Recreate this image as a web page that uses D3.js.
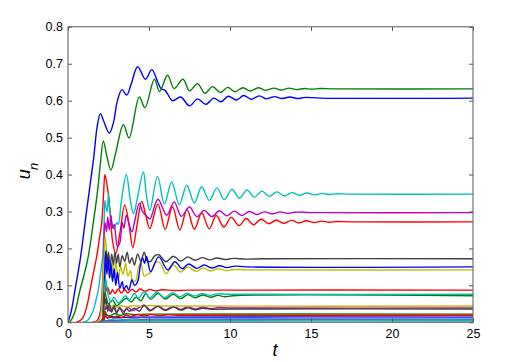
<!DOCTYPE html>
<html>
<head>
<meta charset="utf-8">
<script src="https://cdn.jsdelivr.net/npm/d3@7"></script>
<style>
  html, body { margin: 0; padding: 0; background: #fff; }
  svg { display: block; }
</style>
</head>
<body>
<svg id="chart" width="528" height="362"></svg>
<script>
// ---------- data ----------
const tTicks = [0, 5, 10, 15, 20, 25];
const uTicks = [0, 0.1, 0.2, 0.3, 0.4, 0.5, 0.6, 0.7, 0.8];
const uTickLabels = ["0", "0.1", "0.2", "0.3", "0.4", "0.5", "0.6", "0.7", "0.8"];

const blue1 = [[0,0],[0.2,0.03],[0.43,0.087],[0.78,0.178],[1.05,0.269],[1.32,0.358],[1.6,0.45],[1.8,0.53],[2.0,0.565],[2.2,0.545],[2.55,0.512],[2.8,0.54],[3.05,0.6],[3.33,0.630],[3.62,0.615],[3.9,0.645],[4.3,0.692],[4.78,0.658],[5.17,0.684],[5.5,0.655],[5.75,0.632],[6.0,0.628],[6.45,0.600],[6.95,0.610],[7.5,0.586],[8.0,0.605],[8.5,0.590],[9.0,0.607],[9.45,0.597],[9.9,0.612],[10.4,0.602],[10.85,0.614],[11.3,0.604],[11.8,0.613],[12.25,0.605],[12.75,0.611],[13.2,0.606],[13.7,0.610],[14.15,0.606],[14.65,0.609],[15.6,0.607],[25,0.607]];
const green2 = [[0,0],[0.12,0.002],[0.4,0.025],[0.74,0.087],[1.0,0.13],[1.25,0.178],[1.56,0.269],[1.83,0.358],[2.0,0.43],[2.18,0.491],[2.4,0.45],[2.65,0.412],[2.95,0.46],[3.42,0.535],[3.77,0.499],[4.4,0.61],[4.75,0.581],[5.33,0.658],[5.65,0.625],[6.15,0.669],[6.55,0.633],[7.1,0.658],[7.5,0.627],[8.0,0.646],[8.45,0.620],[8.92,0.638],[9.4,0.622],[9.86,0.636],[10.3,0.624],[10.8,0.635],[11.25,0.626],[11.75,0.635],[12.2,0.628],[12.7,0.634],[13.15,0.629],[13.65,0.634],[14.1,0.630],[14.6,0.633],[15.05,0.631],[15.55,0.633],[16.5,0.632],[25,0.632]];
const red3 = [[0.5,0],[0.8,0.006],[1.0,0.02],[1.2,0.05],[1.36,0.087],[1.55,0.13],[1.77,0.178],[1.95,0.23],[2.08,0.269],[2.2,0.35],[2.28,0.40],[2.45,0.36],[2.6,0.30],[2.75,0.22],[2.95,0.186],[3.2,0.24],[3.5,0.318],[3.75,0.27],[4.0,0.202],[4.25,0.26],[4.55,0.327],[4.8,0.29],[5.05,0.254],[5.55,0.32],[6.0,0.252],[6.45,0.313],[6.9,0.25],[7.35,0.305],[7.8,0.252],[8.25,0.296],[8.72,0.253],[9.15,0.289],[9.62,0.258],[10.07,0.284],[10.55,0.262],[11.0,0.281],[11.45,0.264],[11.92,0.279],[12.4,0.267],[12.85,0.277],[13.3,0.268],[13.8,0.276],[14.25,0.269],[14.7,0.275],[15.2,0.270],[15.65,0.274],[16.1,0.271],[16.6,0.273],[17.5,0.272],[25,0.272]];
const cyan4 = [[0.9,0],[1.2,0.005],[1.5,0.025],[1.7,0.055],[1.87,0.087],[2.0,0.13],[2.14,0.178],[2.22,0.26],[2.28,0.33],[2.35,0.31],[2.42,0.30],[2.5,0.348],[2.58,0.30],[2.7,0.27],[2.85,0.252],[3.0,0.27],[3.1,0.265],[3.3,0.33],[3.6,0.40],[3.85,0.33],[4.05,0.294],[4.3,0.34],[4.65,0.407],[4.85,0.34],[5.05,0.303],[5.53,0.395],[5.95,0.32],[6.4,0.38],[6.87,0.318],[7.33,0.371],[7.8,0.323],[8.25,0.367],[8.72,0.33],[9.2,0.364],[9.65,0.332],[10.12,0.36],[10.58,0.336],[11.05,0.358],[11.5,0.339],[11.97,0.355],[12.43,0.341],[12.9,0.353],[13.35,0.342],[13.82,0.351],[14.28,0.344],[14.75,0.350],[15.2,0.345],[15.68,0.349],[16.15,0.346],[16.6,0.348],[17.5,0.347],[25,0.347]];
const magenta5 = [[1.5,0],[1.8,0.005],[2.0,0.03],[2.1,0.08],[2.2,0.18],[2.28,0.27],[2.38,0.245],[2.45,0.285],[2.55,0.25],[2.65,0.29],[2.75,0.255],[2.85,0.265],[3.05,0.205],[3.2,0.215],[3.35,0.27],[3.45,0.255],[3.6,0.29],[3.8,0.26],[3.95,0.245],[4.1,0.27],[4.4,0.322],[4.6,0.30],[4.8,0.29],[5.05,0.28],[5.55,0.333],[6.1,0.29],[6.55,0.326],[7.0,0.287],[7.5,0.312],[7.95,0.286],[8.42,0.303],[8.87,0.286],[9.35,0.302],[9.8,0.288],[10.27,0.301],[10.72,0.289],[11.2,0.300],[11.65,0.292],[12.15,0.299],[12.6,0.293],[13.1,0.299],[13.55,0.295],[14.0,0.298],[15,0.297],[25,0.297]];
const yellow6 = [[1.6,0],[1.9,0.005],[2.05,0.03],[2.15,0.1],[2.25,0.2],[2.3,0.232],[2.38,0.19],[2.45,0.14],[2.55,0.17],[2.65,0.12],[2.75,0.155],[2.85,0.12],[2.95,0.165],[3.1,0.115],[3.25,0.15],[3.4,0.13],[3.55,0.16],[3.7,0.125],[3.85,0.14],[4.0,0.11],[4.2,0.115],[4.35,0.15],[4.5,0.16],[4.7,0.125],[4.9,0.13],[5.1,0.135],[5.4,0.163],[5.7,0.16],[6.05,0.132],[6.5,0.155],[6.95,0.136],[7.4,0.15],[7.9,0.138],[8.35,0.147],[8.8,0.139],[9.3,0.145],[9.75,0.14],[10.2,0.143],[11,0.142],[25,0.142]];
const black7 = [[1.9,0],[2.1,0.005],[2.2,0.05],[2.28,0.15],[2.35,0.195],[2.42,0.16],[2.5,0.19],[2.6,0.15],[2.7,0.185],[2.8,0.155],[2.9,0.19],[3.0,0.16],[3.1,0.185],[3.2,0.15],[3.35,0.18],[3.5,0.165],[3.65,0.19],[3.8,0.16],[3.95,0.175],[4.1,0.155],[4.3,0.185],[4.5,0.165],[4.7,0.19],[4.9,0.165],[5.1,0.165],[5.35,0.18],[5.6,0.183],[6.05,0.164],[6.5,0.179],[6.95,0.166],[7.4,0.177],[7.85,0.168],[8.3,0.175],[8.75,0.169],[9.2,0.174],[9.7,0.170],[10.2,0.173],[11,0.171],[12,0.172],[25,0.172]];
const blue8 = [[2.0,0],[2.15,0.01],[2.25,0.1],[2.32,0.19],[2.4,0.13],[2.48,0.175],[2.56,0.12],[2.65,0.16],[2.75,0.11],[2.85,0.145],[2.95,0.10],[3.05,0.135],[3.2,0.092],[3.35,0.11],[3.45,0.088],[3.6,0.10],[3.75,0.087],[3.95,0.115],[4.1,0.10],[4.3,0.11],[4.45,0.15],[4.6,0.175],[4.72,0.16],[4.85,0.178],[5.1,0.137],[5.6,0.177],[6.15,0.142],[6.6,0.164],[7.05,0.145],[7.45,0.158],[7.95,0.146],[8.4,0.155],[8.9,0.147],[9.35,0.153],[9.8,0.148],[10.3,0.152],[11,0.150],[25,0.150]];
const green9 = [[2.15,0],[2.25,0.09],[2.35,0.07],[2.5,0.05],[2.75,0.06],[3.0,0.045],[3.3,0.055],[3.6,0.065],[3.9,0.055],[4.2,0.068],[4.5,0.058],[4.8,0.078],[5.1,0.062],[5.55,0.078],[6.0,0.063],[6.5,0.076],[6.95,0.064],[7.4,0.075],[7.85,0.066],[8.3,0.074],[8.8,0.068],[9.25,0.073],[9.7,0.069],[10.2,0.072],[25,0.072]];
const red10 = [[1.9,0],[2.1,0.005],[2.2,0.04],[2.3,0.10],[2.38,0.085],[2.45,0.095],[2.6,0.076],[2.75,0.088],[2.9,0.078],[3.1,0.09],[3.3,0.079],[3.5,0.088],[3.7,0.08],[3.95,0.089],[4.2,0.082],[4.45,0.09],[4.75,0.084],[5.05,0.089],[5.4,0.085],[5.8,0.088],[6.5,0.086],[7.5,0.087],[25,0.087]];
const cyan11 = [[2.15,0],[2.25,0.08],[2.32,0.12],[2.4,0.095],[2.5,0.07],[2.65,0.055],[2.85,0.068],[3.1,0.052],[3.3,0.06],[3.55,0.072],[3.8,0.06],[4.1,0.078],[4.35,0.065],[4.7,0.083],[5.05,0.066],[5.5,0.082],[5.95,0.066],[6.45,0.080],[6.9,0.069],[7.35,0.079],[7.8,0.071],[8.25,0.078],[8.75,0.073],[9.2,0.077],[10,0.076],[25,0.076]];
const magenta12 = [[2.0,0],[2.15,0.01],[2.25,0.05],[2.32,0.035],[2.45,0.045],[2.6,0.03],[2.8,0.04],[3.0,0.028],[3.2,0.038],[3.45,0.03],[3.7,0.04],[4.0,0.032],[4.3,0.038],[4.7,0.046],[5.1,0.033],[5.55,0.044],[6.0,0.034],[6.5,0.043],[6.95,0.035],[7.4,0.042],[7.85,0.036],[8.3,0.041],[8.8,0.037],[9.3,0.040],[10,0.039],[25,0.039]];
const yellow13 = [[2.0,0],[2.15,0.01],[2.25,0.06],[2.3,0.05],[2.4,0.045],[2.6,0.04],[2.8,0.046],[3.0,0.041],[3.3,0.045],[3.6,0.042],[4.0,0.045],[4.5,0.043],[5.0,0.045],[6,0.044],[25,0.044]];
const black14 = [[2.0,0],[2.15,0.01],[2.22,0.08],[2.28,0.05],[2.35,0.065],[2.45,0.03],[2.55,0.05],[2.7,0.028],[2.85,0.045],[3.0,0.025],[3.2,0.04],[3.4,0.023],[3.6,0.037],[3.8,0.03],[4.1,0.038],[4.4,0.03],[4.7,0.046],[5.05,0.031],[5.55,0.043],[6.0,0.032],[6.5,0.041],[6.95,0.033],[7.4,0.039],[7.85,0.034],[8.3,0.038],[9,0.035],[10,0.036],[25,0.036]];
const blue15 = [[2.0,0],[2.2,0.005],[2.3,0.02],[2.4,0.012],[2.7,0.015],[3.2,0.013],[4,0.014],[25,0.014]];
const green16 = [[2.0,0],[2.2,0.01],[2.3,0.03],[2.4,0.02],[2.6,0.018],[2.9,0.024],[3.2,0.019],[3.6,0.023],[4,0.021],[5,0.022],[25,0.022]];
const red17 = [[2.0,0],[2.2,0.01],[2.28,0.025],[2.4,0.012],[2.6,0.016],[2.8,0.011],[3.0,0.017],[3.3,0.013],[3.6,0.019],[3.9,0.016],[4.3,0.021],[4.7,0.017],[5.1,0.021],[5.6,0.018],[6.2,0.020],[7,0.019],[25,0.019]];
const cyan18 = [[2.0,0],[2.25,0.004],[2.5,0.006],[3.0,0.010],[3.5,0.007],[4.0,0.010],[4.5,0.008],[5,0.009],[25,0.009]];
const magenta19 = [[2.0,0],[2.3,0.003],[3,0.005],[4,0.006],[25,0.006]];
const cyan25 = [[2.0,0],[2.5,0.002],[3,0.003],[4,0.0035],[25,0.0035]];

const seriesList = [blue1, green2, red3, cyan4, magenta5, yellow6, black7, blue8, green9, red10,
                    cyan11, magenta12, yellow13, black14, blue15, green16, red17, cyan18, magenta19, cyan25];
const seriesColorKeys = ["b","g","r","c","m","y","k","b","g","r","c","m","y","k","b","g","r","c","m","c"];

// ---------- styling ----------
const palette = { b: "#0000ff", g: "#008000", r: "#ff0000", c: "#00bfbf", m: "#bf00bf", y: "#bfbf00", k: "#404040" };
const plotL = 68, plotR = 473, plotT = 26.8, plotB = 322.3;

const svg = d3.select("#chart");
const x = d3.scaleLinear().domain([0, 25]).range([plotL, plotR]);
const y = d3.scaleLinear().domain([0, 0.8]).range([plotB, plotT]);

svg.append("defs").append("clipPath").attr("id", "clip")
  .append("rect").attr("x", plotL).attr("y", plotT).attr("width", plotR - plotL).attr("height", plotB - plotT);

const line = d3.line().x(d => x(d[0])).y(d => y(d[1])).curve(d3.curveCatmullRom.alpha(0.5));

const g = svg.append("g").attr("clip-path", "url(#clip)");
seriesList.forEach((s, i) => {
  g.append("path")
    .attr("d", line(s))
    .attr("fill", "none")
    .attr("stroke", palette[seriesColorKeys[i]])
    .attr("stroke-width", 1.4)
    .attr("stroke-linejoin", "round");
});

// axes
const font = "'Liberation Sans', Arial, Helvetica, sans-serif";
const axB = svg.append("g").attr("transform", `translate(0,${plotB})`)
  .call(d3.axisBottom(x).tickValues(tTicks).tickFormat(d3.format("d")).tickSize(-4).tickPadding(7));
const axT = svg.append("g").attr("transform", `translate(0,${plotT})`)
  .call(d3.axisTop(x).tickValues(tTicks).tickFormat("").tickSize(-4));
const axL = svg.append("g").attr("transform", `translate(${plotL},0)`)
  .call(d3.axisLeft(y).tickValues(uTicks).tickFormat((d, i) => uTickLabels[i]).tickSize(-4).tickPadding(5));
const axR = svg.append("g").attr("transform", `translate(${plotR},0)`)
  .call(d3.axisRight(y).tickValues(uTicks).tickFormat("").tickSize(-4));

[axB, axT, axL, axR].forEach(a => {
  a.select(".domain").remove();
  a.selectAll(".tick line").attr("stroke", "#555").attr("stroke-width", 1);
  a.selectAll("text").attr("font-family", font).attr("font-size", 12.5).attr("fill", "#000");
});

// box
svg.append("rect")
  .attr("x", plotL).attr("y", plotT).attr("width", plotR - plotL).attr("height", plotB - plotT)
  .attr("fill", "none").attr("stroke", "#666").attr("stroke-width", 1.1);

// axis labels
svg.append("text")
  .attr("x", 275).attr("y", 356)
  .attr("text-anchor", "middle")
  .attr("font-family", font).attr("font-style", "italic").attr("font-size", 18)
  .text("t");

const yl = svg.append("text")
  .attr("transform", "translate(30,171) rotate(-90)")
  .attr("text-anchor", "middle")
  .attr("font-family", font).attr("font-size", 18);
yl.append("tspan").attr("font-style", "italic").text("u");
yl.append("tspan").attr("font-style", "italic").attr("font-size", 13).attr("dy", 8).attr("dx", -1).text("n");
</script>
</body>
</html>
